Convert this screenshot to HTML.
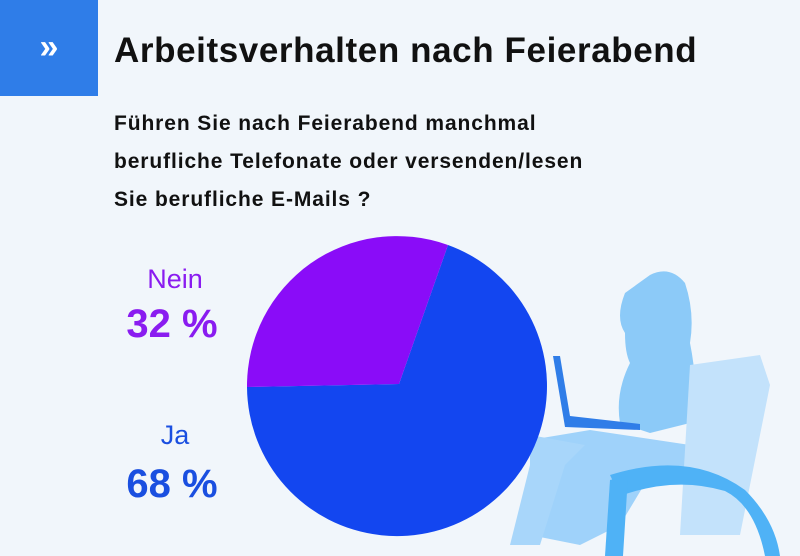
<!DOCTYPE html>
<html><head><meta charset="utf-8"><style>
body{margin:0;width:800px;height:556px;overflow:hidden;background:#f1f6fb;font-family:"Liberation Sans",sans-serif;position:relative}
.sq{position:absolute;left:0;top:0;width:98px;height:96px;background:#2f7de8;color:#fff;font-weight:bold;font-size:34px;text-align:center;line-height:94px}
.t{position:absolute;left:114px;top:31px;font-size:35px;font-weight:bold;color:#111;letter-spacing:0.6px;white-space:nowrap}
.q{position:absolute;left:114px;top:105px;font-size:21px;font-weight:bold;color:#111;line-height:38px;letter-spacing:0.9px;white-space:nowrap}
.l{position:absolute;text-align:center}
</style></head><body>
<div class="sq">»</div>
<div class="t">Arbeitsverhalten nach Feierabend</div>
<div class="q">Führen Sie nach Feierabend manchmal<br>berufliche Telefonate oder versenden/lesen<br>Sie berufliche E-Mails ?</div>
<svg style="position:absolute;left:0;top:0" width="800" height="556">
<g fill="#8ccaf8">
<path d="M650 275 q20 -10 35 8 q10 30 5 60 q10 50 0 80 l-40 10 l-30 -10 q-5 -30 10 -60 q-5 -10 -5 -30 q-10 -15 0 -40 z"/>
<path d="M530 440 l60 -10 l100 15 q30 5 40 30 l-80 0 l-30 50 l-40 20 l-50 -10 z" fill="#9fd2fa"/>
<path d="M530 435 l0 30 l-20 80 l30 0 l25 -80 l20 -20 z" fill="#a8d6fa"/>
<path d="M690 365 l70 -10 l10 30 l-30 150 l-60 0 z" fill="#c3e2fb"/>
<path d="M610 475 q80 -25 135 15 q30 30 35 66 l-15 0 q-10 -50 -40 -65 q-50 -15 -105 5 z" fill="#4fb2f6"/>
<path d="M610 480 l18 -4 l-5 80 l-18 0 z" fill="#4fb2f6"/>
</g>
<path d="M553 356 l7 0 l10 60 l70 8 l0 6 l-75 -3 z" fill="#2f7de8"/>
<path d="M399 384 L448 245 A150 150 0 1 1 247 387 Z" fill="#1346f0"/>
<path d="M399 384 L247 387 A150 150 0 0 1 448 245 Z" fill="#8a0cf8"/>
</svg>
<div class="l" style="left:128px;top:264px;width:94px;font-size:27px;color:#8a1cf0">Nein</div>
<div class="l" style="left:112px;top:302px;width:120px;font-size:40px;font-weight:bold;color:#8a1cf0">32 %</div>
<div class="l" style="left:128px;top:420px;width:94px;font-size:27px;color:#1a4fe0">Ja</div>
<div class="l" style="left:112px;top:462px;width:120px;font-size:40px;font-weight:bold;color:#1a4fe0">68 %</div>
</body></html>
